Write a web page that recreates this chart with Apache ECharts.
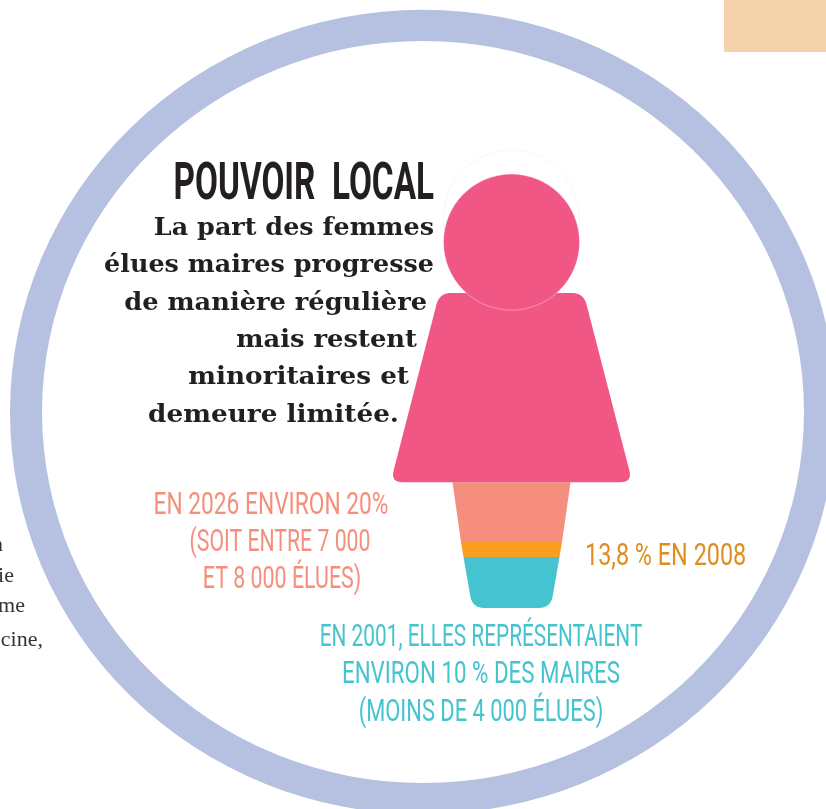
<!DOCTYPE html>
<html>
<head>
<meta charset="utf-8">
<style>
  html, body { margin: 0; padding: 0; background: #fff; }
  #chart { width: 826px; height: 809px; }
</style>
<script src="https://cdn.jsdelivr.net/npm/echarts@6/dist/echarts.min.js"></script>
</head>
<body>
<div id="chart"></div>
<script>
// figure, foot = 0, top of head = 100, centre line = 0
const figureParts = ['2001', '2008', '2026', 'corps'];
const partBottom = [0, 11.75, 15.2, 29];
const partTop = [11.75, 15.2, 29, 72.6];
const partBottomHalf = [33, 40.5, 42.6, 102];
const partTopHalf = [40.5, 42.6, 49.8, 60.8];
const headCentre = [84.3];
const headRadius = [57.4];
const haloCentre = [89.8];

const titleText = 'POUVOIR  LOCAL';
const introLines = ['La part des femmes', 'élues maires progresse', 'de manière régulière', 'mais restent', 'minoritaires et', 'demeure limitée.'];
const label2026 = ['EN 2026 ENVIRON 20%', '(SOIT ENTRE 7 000', 'ET 8 000 ÉLUES)'];
const label2008 = ['13,8 % EN 2008'];
const label2001 = ['EN 2001, ELLES REPRÉSENTAIENT', 'ENVIRON 10 % DES MAIRES', '(MOINS DE 4 000 ÉLUES)'];
const sideText = ['n', 'ie', 'me', 'cine,'];

const partColors = ['#45c3cf', '#f99e1f', '#f58e7c', '#f15784'];
const condensed = 'Roboto, "Liberation Sans", sans-serif';

// sample rounded corners so the shape stays a plain polygon
function roundPoly(pts, radii) {
  const out = [];
  pts.forEach((p, i) => {
    const prev = pts[(i + pts.length - 1) % pts.length];
    const next = pts[(i + 1) % pts.length];
    const r = radii[i];
    if (!r) { out.push(p); return; }
    const d1 = Math.hypot(prev[0] - p[0], prev[1] - p[1]);
    const d2 = Math.hypot(next[0] - p[0], next[1] - p[1]);
    const a = [p[0] + (prev[0] - p[0]) * r / d1, p[1] + (prev[1] - p[1]) * r / d1];
    const b = [p[0] + (next[0] - p[0]) * r / d2, p[1] + (next[1] - p[1]) * r / d2];
    for (let t = 0; t <= 1.001; t += 0.125) {
      const u = 1 - t;
      out.push([u * u * a[0] + 2 * u * t * p[0] + t * t * b[0], u * u * a[1] + 2 * u * t * p[1] + t * t * b[1]]);
    }
  });
  return out;
}

const partCorners = [[12, 12, 0, 0], [0, 0, 0, 0], [0, 0, 0, 0], [12, 12, 12, 12]];

function renderPart(params, api) {
  const y0 = api.value(0), y1 = api.value(1), hb = api.value(2), ht = api.value(3);
  const pts = [api.coord([-hb, y0]), api.coord([hb, y0]), api.coord([ht, y1]), api.coord([-ht, y1])];
  return {
    type: 'polygon',
    shape: { points: roundPoly(pts, partCorners[params.dataIndex]) },
    style: { fill: partColors[params.dataIndex] }
  };
}

function renderHead(params, api) {
  const c = api.coord([0, api.value(0)]);
  return {
    type: 'circle',
    shape: { cx: c[0], cy: c[1], r: api.size([api.value(1), 0])[0] },
    style: params.seriesName === 'halo'
      ? { fill: 'none', stroke: '#fbf5f6', lineWidth: 1 }
      : { fill: partColors[3], stroke: 'rgba(255,255,255,0.45)', lineWidth: 0.8 }
  };
}

function textEl(text, x, y, align, opt) {
  return {
    type: 'text', silent: true, x: x, y: y,
    scaleX: opt.sx || 1, scaleY: opt.sy || 1,
    style: { text: text, textAlign: align, textVerticalAlign: 'middle', font: opt.font, fill: opt.fill }
  };
}

const serif = 'bold 24px "DejaVu Serif", serif';
const introRight = [434, 434, 427, 417, 409, 399];
const introY = [229, 266, 304, 341, 378, 416];
const introSx = [1.06, 1.06, 1.07, 1.075, 1.095, 1.095];
const labelFont = '400 31px ' + condensed;

const graphics = [
  // the ring is a touch flatter than a circle in the reference
  { type: 'ring', silent: true, x: 423, y: 412, scaleY: 0.974, z: -1, shape: { cx: 0, cy: 0, r: 413, r0: 381 }, style: { fill: '#b6c0e0' } },
  { type: 'rect', silent: true, shape: { x: 724, y: 0, width: 102, height: 52 }, style: { fill: '#f4d2ac' } },
  textEl(titleText, 434, 186, 'right', { font: 'bold 52px ' + condensed, fill: '#231f20', sx: 0.64 })
];
introLines.forEach((t, i) => graphics.push(textEl(t, introRight[i], introY[i], 'right', { font: serif, fill: '#231f20', sx: introSx[i] })));
[271, 280, 282].forEach((x, i) => graphics.push(textEl(label2026[i], x, [506, 543, 580][i], 'center', { font: labelFont, fill: '#f58e7c', sx: [0.733, 0.685, 0.69][i] })));
graphics.push(textEl(label2008[0], 585, 557, 'left', { font: labelFont, fill: '#dd8e1f', sx: 0.755 }));
[638, 675, 713].forEach((y, i) => graphics.push(textEl(label2001[i], 481, y, 'center', { font: labelFont, fill: '#45c3cf', sx: [0.672, 0.72, 0.705][i] })));
[3, 14, 25, 43].forEach((x, i) => graphics.push(textEl(sideText[i], x, [545, 576, 606, 640][i], 'right', { font: '22px "Liberation Serif", serif', fill: '#333' })));

const chart = echarts.init(document.getElementById('chart'), null, { renderer: 'canvas' });
chart.setOption({
  backgroundColor: '#ffffff',
  animation: false,
  grid: { left: 393, top: 174, width: 237, height: 434 },
  xAxis: { type: 'value', min: -100, max: 100, show: false },
  yAxis: { type: 'value', min: 0, max: 100, show: false },
  graphic: graphics,
  series: [
    {
      name: 'halo', type: 'custom', silent: true, renderItem: renderHead,
      encode: { x: [], y: 0 }, data: [[haloCentre[0], headRadius[0]]]
    },
    {
      name: 'femme', type: 'custom', silent: true, renderItem: renderPart,
      encode: { y: [0, 1], x: [2, 3] },
      data: figureParts.map((p, i) => [partBottom[i], partTop[i], partBottomHalf[i], partTopHalf[i]])
    },
    {
      name: 'tete', type: 'custom', silent: true, renderItem: renderHead,
      encode: { x: [], y: 0 }, data: [[headCentre[0], headRadius[0]]]
    }
  ]
});
</script>
</body>
</html>
